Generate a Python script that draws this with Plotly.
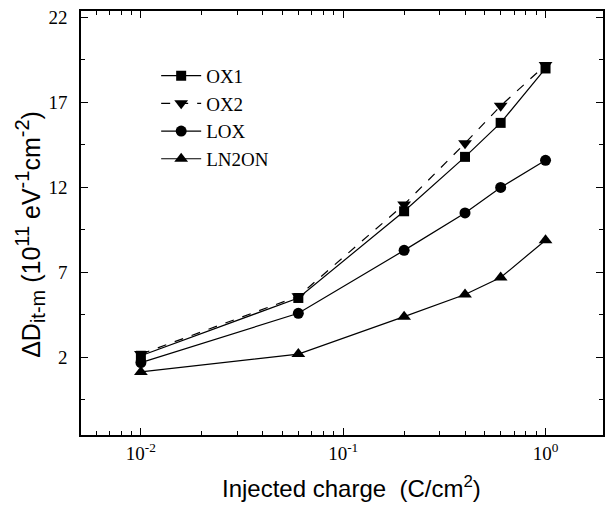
import plotly.graph_objects as go

charge = [0.01, 0.06, 0.2, 0.4, 0.6, 1.0]
ox1 = [2.1, 5.5, 10.6, 13.8, 15.8, 19.0]
ox2 = [2.2, 5.6, 11.0, 14.6, 16.8, 19.2]
lox = [1.7, 4.6, 8.3, 10.5, 12.0, 13.6]
ln2on = [1.15, 2.2, 4.4, 5.7, 6.7, 8.9]

series = [
    ("OX1", ox1, "square", "solid", 10),
    ("OX2", ox2, "triangle-down", "dash", 12),
    ("LOX", lox, "circle", "solid", 11),
    ("LN2ON", ln2on, "triangle-up", "solid", 12),
]

x_major = [0.01, 0.1, 1]
x_major_text = ["10<sup>-2</sup>", "10<sup>-1</sup>", "10<sup>0</sup>"]
x_minor = [m * d for d in [0.001, 0.01, 0.1, 1] for m in range(2, 10)]
y_major = [2, 7, 12, 17, 22]
y_minor = [-0.5, 4.5, 9.5, 14.5, 19.5]

x_title = "Injected charge  (C/cm<sup>2</sup>)"
sm = "<span style='font-size:20px'>{}</span>"
y_title = ("ΔD<sub>" + sm.format("it-m") + "</sub> (10<sup>" + sm.format("11")
           + "</sup> eV<sup>" + sm.format("-1") + "</sup>cm<sup>" + sm.format("-2")
           + "</sup>)")

fig = go.Figure()
for name, vals, sym, dash, size in series:
    fig.add_trace(go.Scatter(
        x=charge, y=vals, name=name, mode="lines+markers",
        line=dict(color="black", width=1.2, dash=dash),
        marker=dict(symbol=sym, size=size, color="black"),
    ))

serif = "Liberation Serif, Times New Roman, serif"
sans = "Liberation Sans, Arial, sans-serif"

fig.update_layout(
    width=607, height=508,
    margin=dict(l=81, r=4, t=11, b=73, autoexpand=False),
    plot_bgcolor="white", paper_bgcolor="white",
    showlegend=True,
    legend=dict(x=0.144, y=0.892, xanchor="left", yanchor="top",
                font=dict(family=serif, size=19, color="black"),
                bgcolor="rgba(0,0,0,0)", itemwidth=40),
    xaxis=dict(
        type="log", range=[-2.296, 0.284], automargin=False,
        tickmode="array", tickvals=x_major, ticktext=x_major_text,
        ticks="inside", ticklen=7, tickwidth=1.2, tickcolor="black",
        minor=dict(tickmode="array", tickvals=x_minor, ticks="inside",
                   ticklen=4, tickwidth=1.2, tickcolor="black"),
        showline=True, linecolor="black", linewidth=1.5, mirror="ticks",
        showgrid=False, zeroline=False,
        tickfont=dict(family=serif, size=19, color="black"),
    ),
    yaxis=dict(
        range=[-2.56, 22.38], automargin=False,
        tickmode="array", tickvals=y_major,
        ticks="inside", ticklen=7, tickwidth=1.2, tickcolor="black",
        minor=dict(tickmode="array", tickvals=y_minor, ticks="inside",
                   ticklen=4, tickwidth=1.2, tickcolor="black"),
        showline=True, linecolor="black", linewidth=1.5, mirror="ticks",
        showgrid=False, zeroline=False,
        tickfont=dict(family=serif, size=19, color="black"),
        ticklabelstandoff=8,
    ),
    annotations=[
        dict(text=x_title, xref="paper", yref="paper", x=0.519, y=-0.1226,
             xanchor="center", yanchor="middle", showarrow=False,
             font=dict(family=sans, size=24, color="black")),
        dict(text=y_title, xref="paper", yref="paper", x=-0.0977, y=0.472,
             xanchor="center", yanchor="middle", showarrow=False, textangle=-90,
             font=dict(family=sans, size=25, color="black")),
    ],
)

fig.write_html("out.html", config={"displayModeBar": False},
               post_script="document.body.style.margin='0';document.body.style.overflow='hidden';")
